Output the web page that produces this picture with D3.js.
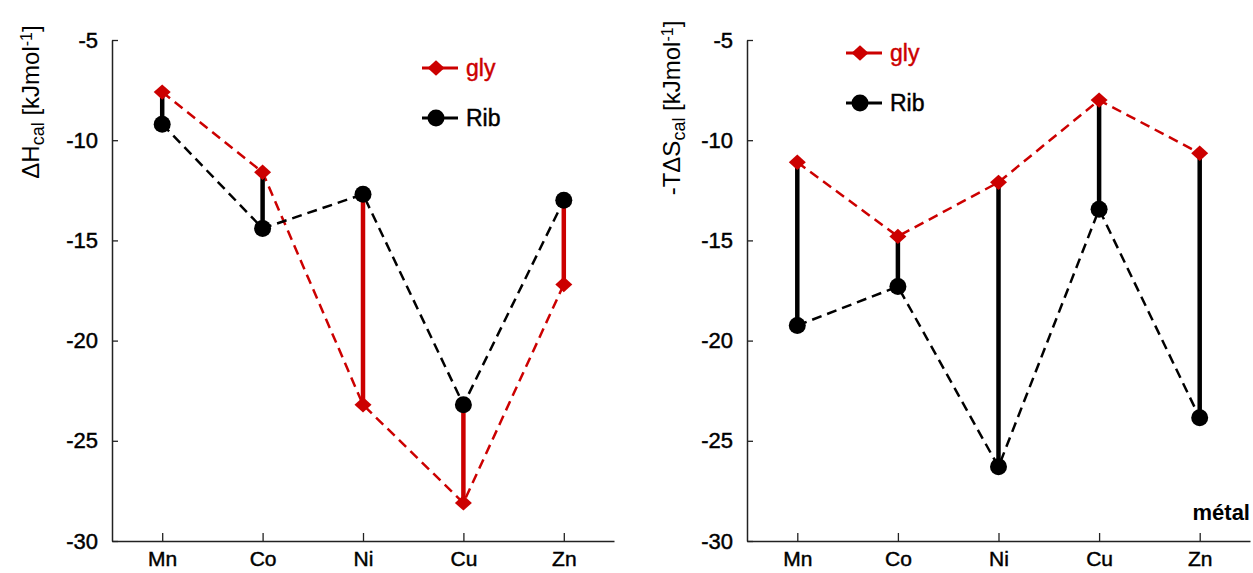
<!DOCTYPE html>
<html><head><meta charset="utf-8">
<script src="https://cdn.jsdelivr.net/npm/d3@7"></script>
<style>body{margin:0;background:#fff;} text{font-family:Arial,"Liberation Sans",sans-serif;}</style>
</head><body>
<svg id="c" width="1253" height="573"></svg>
<script>
const metals = ["Mn","Co","Ni","Cu","Zn"];
const yTicks = [-5,-10,-15,-20,-25,-30];
const dH_gly = [-7.6,-11.6,-23.2,-28.1,-17.2];
const dH_rib = [-9.2,-14.4,-12.7,-23.2,-13.0];
const TdS_gly = [-11.1,-14.8,-12.1,-8.0,-10.65];
const TdS_rib = [-19.25,-17.3,-26.3,-13.45,-23.85];
const seriesNames = ["gly","Rib"];

const RED = "#cc0000", BLACK = "#000";
const svg = d3.select("#c");

function panel(x0, x1, gly, rib, labelParts, labelX, labelY, legX, legY, extra) {
  const x = d3.scalePoint().domain(metals).range([x0, x1]).padding(0.5);
  const y = d3.scaleLinear().domain([-30,-5]).range([541,40]);
  const g = svg.append("g");
  const ya = g.append("g").attr("transform",`translate(${x0},0)`)
    .call(d3.axisLeft(y).tickValues(yTicks).tickFormat(d=>String(d)).tickSize(-6).tickPadding(14).tickSizeOuter(0));
  const xa = g.append("g").attr("transform","translate(0,541)")
    .call(d3.axisBottom(x).tickSize(-8).tickPadding(10).tickSizeOuter(0));
  [ya, xa].forEach(a => {
    a.selectAll("path.domain").attr("stroke","#222").attr("stroke-width",1.5);
    a.selectAll(".tick line").attr("stroke","#222").attr("stroke-width",1.3);
    a.selectAll("text").attr("font-size",22).attr("fill","#000")
      .attr("stroke","#000").attr("stroke-width",0.45);
  });
  xa.selectAll("text").attr("font-size",21);
  const line = d3.line().x((d,i)=>x(metals[i])).y(d=>y(d));
  g.append("path").datum(gly).attr("d",line).attr("fill","none").attr("stroke",RED)
    .attr("stroke-width",2.5).attr("stroke-dasharray","10,6");
  g.append("path").datum(rib).attr("d",line).attr("fill","none").attr("stroke",BLACK)
    .attr("stroke-width",2.5).attr("stroke-dasharray","10,6");
  g.selectAll("line.bar").data(metals).join("line").attr("class","bar")
    .attr("x1",d=>x(d)).attr("x2",d=>x(d))
    .attr("y1",(d,i)=>y(gly[i])).attr("y2",(d,i)=>y(rib[i]))
    .attr("stroke",(d,i)=> gly[i] < rib[i] ? RED : BLACK).attr("stroke-width",4.5);
  const diamond = (cx,cy,s) => `M${cx},${cy-s*0.9}L${cx+s},${cy}L${cx},${cy+s*0.9}L${cx-s},${cy}Z`;
  g.selectAll("path.dia").data(gly).join("path").attr("class","dia")
    .attr("d",(d,i)=>diamond(x(metals[i]), y(d), 8.5)).attr("fill",RED);
  g.selectAll("circle.rib").data(rib).join("circle").attr("class","rib")
    .attr("cx",(d,i)=>x(metals[i])).attr("cy",d=>y(d)).attr("r",8.5).attr("fill",BLACK);
  // legend
  const rows = [{n:seriesNames[0],c:RED,dy:0},{n:seriesNames[1],c:BLACK,dy:50}];
  rows.forEach(r=>{
    const ly = legY + r.dy;
    g.append("line").attr("x1",legX).attr("x2",legX+36).attr("y1",ly).attr("y2",ly)
      .attr("stroke",r.c).attr("stroke-width",3);
    if (r.c===RED) g.append("path").attr("d",diamond(legX+14,ly,8.5)).attr("fill",RED);
    else g.append("circle").attr("cx",legX+14).attr("cy",ly).attr("r",8.5).attr("fill",BLACK);
    g.append("text").attr("x",legX+44).attr("y",ly+8).attr("font-size",23)
      .attr("fill",r.c).attr("stroke",r.c).attr("stroke-width",0.45).text(r.n);
  });
  // y label
  const t = g.append("text").attr("transform",`translate(${labelX},${labelY}) rotate(-90)`)
    .attr("text-anchor","middle").attr("font-size",24).attr("fill","#000");
  labelParts.forEach(p=>{
    const ts = t.append("tspan").text(p.t);
    if (p.sub) ts.attr("font-size",18).attr("baseline-shift","-25%");
    if (p.sup) ts.attr("font-size",16).attr("baseline-shift","45%");
  });
  if (extra) extra(g);
}

panel(112, 614, dH_gly, dH_rib,
  [{t:"\u0394H"},{t:"cal",sub:true},{t:" [kJmol"},{t:"-1",sup:true},{t:"]"}],
  39, 102, 422, 68, null);
panel(747, 1250, TdS_gly, TdS_rib,
  [{t:"-T\u0394S"},{t:"cal",sub:true},{t:" [kJmol"},{t:"-1",sup:true},{t:"]"}],
  680, 108, 846, 53,
  g => g.append("text").attr("x",1250).attr("y",520).attr("text-anchor","end")
        .attr("font-size",22).attr("font-weight","bold").attr("fill","#000").text("métal"));
</script>
</body></html>
